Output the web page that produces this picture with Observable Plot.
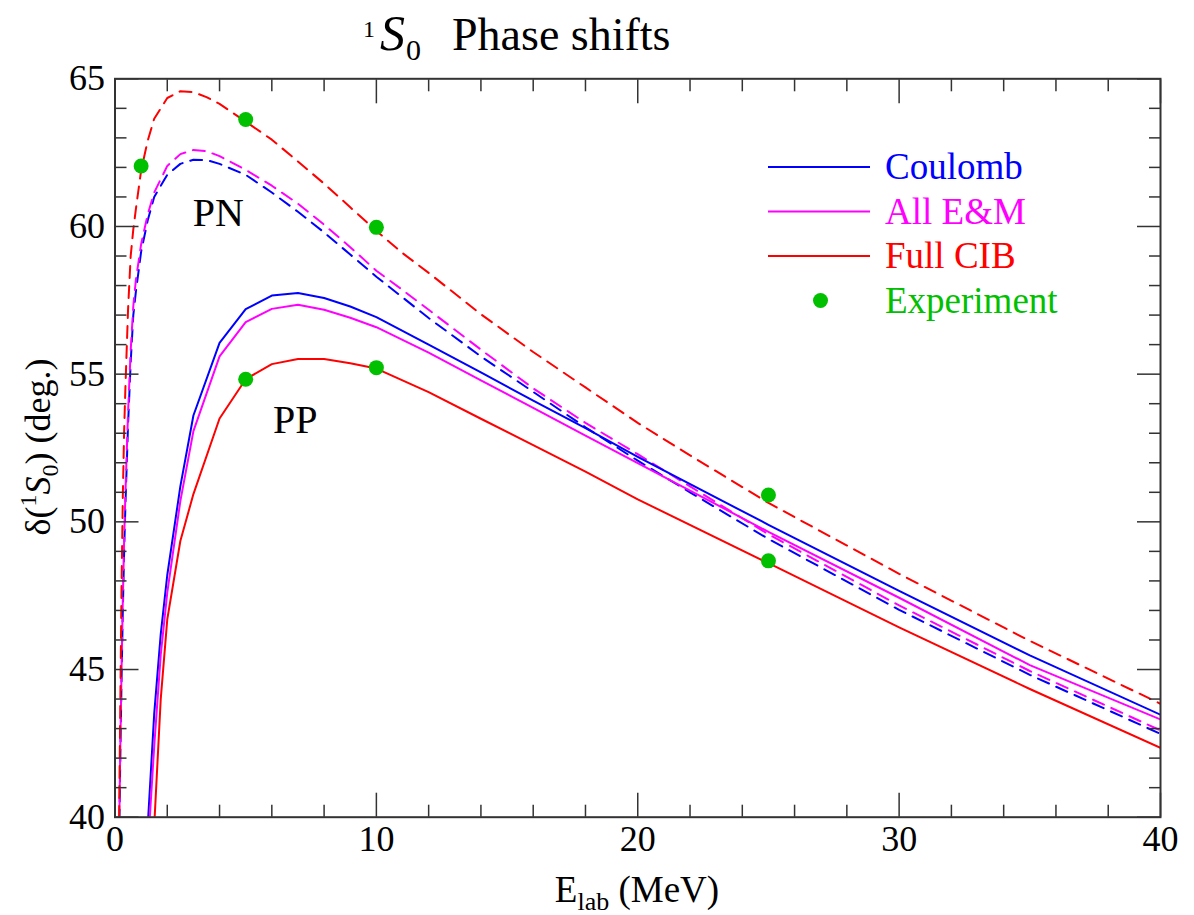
<!DOCTYPE html>
<html>
<head>
<meta charset="utf-8">
<script src="https://cdn.jsdelivr.net/npm/d3@7"></script>
<script src="https://cdn.jsdelivr.net/npm/@observablehq/plot@0.6"></script>
<style>
  html, body { margin: 0; padding: 0; background: #fff; }
  #chart { width: 1194px; height: 915px; }
</style>
</head>
<body>
<div id="chart"></div>
<script>
// ---------- data ----------
const seriesNames  = ["Coulomb", "All E&M", "Full CIB"];
const seriesColors = ["#0000ff", "#ff00ff", "#ff0000"];
const expColor = "#00c000";

// PP (solid) curves
const ppEnergy  = [1.2, 1.5, 1.75, 2, 2.5, 3, 4, 5, 6, 7, 8, 9, 10, 12, 14, 16, 18, 20, 25, 30, 35, 40];
const ppCoulomb = [38.9, 43.5, 46.2, 48.2, 51.2, 53.6, 56.06, 57.2, 57.66, 57.75, 57.58, 57.29, 56.93, 56.0, 55.06, 54.1, 53.17, 52.2, 49.9, 47.66, 45.48, 43.47];
const ppAllEM   = [38.1, 42.4, 45.5, 47.6, 50.7, 53.07, 55.6, 56.76, 57.21, 57.35, 57.18, 56.91, 56.59, 55.73, 54.79, 53.86, 52.92, 51.99, 49.66, 47.43, 45.15, 43.31];
const ppFullCIB = [35.0, 39.7, 44.0, 46.7, 49.35, 50.94, 53.5, 54.83, 55.34, 55.51, 55.51, 55.37, 55.19, 54.39, 53.49, 52.6, 51.7, 50.76, 48.6, 46.43, 44.34, 42.35];

// PN (dashed) curves
const pnEnergy  = [0.15, 0.2, 0.25, 0.3, 0.35, 0.4, 0.5, 0.6, 0.7, 0.8, 1.0, 1.25, 1.5, 2, 2.5, 3, 3.5, 4, 5, 6, 7, 8, 9, 10, 11, 12, 14, 16, 18, 20, 22, 25, 30, 35, 40];
const pnCoulomb = [38.5, 41.8, 44.6, 47.0, 49.0, 50.6, 53.3, 55.4, 57.0, 57.8, 59.15, 60.2, 61.0, 61.75, 62.12, 62.26, 62.25, 62.12, 61.75, 61.15, 60.5, 59.8, 59.05, 58.3, 57.6, 56.9, 55.6, 54.4, 53.2, 52.07, 51.0, 49.42, 47.02, 44.82, 42.82];
const pnAllEM   = [38.9, 42.2, 45.0, 47.4, 49.4, 51.0, 53.7, 55.8, 57.3, 58.2, 59.4, 60.4, 61.15, 62.05, 62.45, 62.59, 62.55, 62.38, 61.92, 61.38, 60.77, 60.06, 59.3, 58.5, 57.85, 57.18, 55.83, 54.52, 53.35, 52.29, 51.2, 49.58, 47.17, 44.95, 42.94];
const pnFullCIB = [39.3, 43.6, 47.8, 50.9, 53.1, 54.6, 57.2, 59.0, 59.9, 60.6, 61.9, 62.9, 63.65, 64.35, 64.58, 64.55, 64.38, 64.15, 63.55, 62.94, 62.2, 61.45, 60.65, 59.85, 59.1, 58.43, 57.03, 55.75, 54.55, 53.35, 52.25, 50.64, 48.24, 45.97, 43.84];

// Experiment points
const expPNEnergy = [1, 5, 10, 25];
const expPNDelta  = [62.05, 63.62, 59.97, 50.91];
const expPPEnergy = [5, 10, 25];
const expPPDelta  = [54.83, 55.22, 48.68];

// Curve-group labels
const groupLabels = ["PN", "PP"];
const groupLabelE = [3.95, 6.9];
const groupLabelD = [60.0, 53.0];

// Ticks
const xMajor = [0, 10, 20, 30, 40];
const xMinor = [2, 4, 6, 8, 12, 14, 16, 18, 22, 24, 26, 28, 32, 34, 36, 38];
const yMajor = [40, 45, 50, 55, 60, 65];
const yMinor = [41, 42, 43, 44, 46, 47, 48, 49, 51, 52, 53, 54, 56, 57, 58, 59, 61, 62, 63, 64];

// ---------- tables ----------
function zip(energy, lists) {
  const rows = [];
  lists.forEach((vals, s) => energy.forEach((e, i) => rows.push({E: e, delta: vals[i], series: seriesNames[s]})));
  return rows;
}
const ppRows = zip(ppEnergy, [ppCoulomb, ppAllEM, ppFullCIB]);
const pnRows = zip(pnEnergy, [pnCoulomb, pnAllEM, pnFullCIB]);
const expRows = expPNEnergy.map((e, i) => ({E: e, delta: expPNDelta[i]}))
  .concat(expPPEnergy.map((e, i) => ({E: e, delta: expPPDelta[i]})));
const labelRows = groupLabels.map((t, i) => ({label: t, E: groupLabelE[i], delta: groupLabelD[i]}));

const FONT = "'Liberation Serif', 'Times New Roman', Times, serif";
const AX = "#333";

const plot = Plot.plot({
  width: 1194,
  height: 915,
  marginLeft: 114.5,
  marginRight: 34,
  marginTop: 78.3,
  marginBottom: 98.3,
  x: {domain: [0, 40]},
  y: {domain: [40, 65]},
  color: {domain: seriesNames, range: seriesColors},
  style: {fontFamily: FONT, fontSize: "36px", color: "black", background: "white"},
  marks: [
    Plot.line(pnRows, {x: "E", y: "delta", z: "series", stroke: "series", strokeWidth: 2, strokeDasharray: "12,8", clip: true}),
    Plot.line(ppRows, {x: "E", y: "delta", z: "series", stroke: "series", strokeWidth: 2, clip: true}),
    Plot.dot(expRows, {x: "E", y: "delta", r: 7.5, fill: expColor, stroke: "none"}),
    Plot.text(labelRows, {x: "E", y: "delta", text: "label", fontSize: 40, lineAnchor: "bottom", fill: "black"}),
    // inward ticks on all four sides
    Plot.axisX(xMajor, {anchor: "bottom", tickSize: -24, fill: "none", stroke: AX, strokeWidth: 1.5, label: null}),
    Plot.axisX(xMinor, {anchor: "bottom", tickSize: -12, fill: "none", stroke: AX, strokeWidth: 1.5, label: null}),
    Plot.axisX(xMajor, {anchor: "top", tickSize: -24, fill: "none", stroke: AX, strokeWidth: 1.5, label: null}),
    Plot.axisX(xMinor, {anchor: "top", tickSize: -12, fill: "none", stroke: AX, strokeWidth: 1.5, label: null}),
    Plot.axisY(yMajor, {anchor: "left", tickSize: -24, fill: "none", stroke: AX, strokeWidth: 1.5, label: null}),
    Plot.axisY(yMinor, {anchor: "left", tickSize: -12, fill: "none", stroke: AX, strokeWidth: 1.5, label: null}),
    Plot.axisY(yMajor, {anchor: "right", tickSize: -24, fill: "none", stroke: AX, strokeWidth: 1.5, label: null}),
    Plot.axisY(yMinor, {anchor: "right", tickSize: -12, fill: "none", stroke: AX, strokeWidth: 1.5, label: null}),
    // tick labels
    Plot.axisX(xMajor, {anchor: "bottom", tickSize: 0, tickPadding: 8, fontSize: 36, fill: "black", label: null}),
    Plot.axisY(yMajor, {anchor: "left", tickSize: 0, tickPadding: 10, fontSize: 36, fill: "black", label: null}),
    Plot.frame({stroke: AX, strokeWidth: 2})
  ]
});

document.getElementById("chart").appendChild(plot);

// ---------- rich text (title, axis titles, legend) ----------
const svg = d3.select(plot);

function rich(t, parts) {
  parts.forEach(p => {
    const ts = t.append("tspan").text(p.t);
    if (p.size) ts.attr("font-size", p.size);
    if (p.dy) ts.attr("dy", p.dy);
    if (p.x != null) ts.attr("x", p.x);
    if (p.y != null) ts.attr("y", p.y);
    if (p.italic) ts.attr("font-style", "italic");
  });
  return t;
}

// Title
const title = svg.append("text").attr("font-family", FONT).attr("fill", "black").attr("text-anchor", "start");
rich(title, [
  {t: "1", size: 24, x: 363, y: 37},
  {t: "S", size: 50, x: 380, y: 50, italic: true},
  {t: "0", size: 30, x: 406, y: 60},
  {t: "Phase shifts", size: 46, x: 452, y: 50}
]);

// X axis title
const xt = svg.append("text").attr("font-family", FONT).attr("font-size", 37)
  .attr("text-anchor", "middle").attr("x", 637).attr("y", 902).attr("fill", "black");
rich(xt, [
  {t: "E"},
  {t: "lab", size: 26, dy: 8},
  {t: " (MeV)", size: 37, dy: -8}
]);

// Y axis title
const yt = svg.append("text").attr("font-family", FONT).attr("font-size", 36)
  .attr("text-anchor", "middle").attr("transform", "translate(50,447) rotate(-90)").attr("fill", "black");
rich(yt, [
  {t: "δ("},
  {t: "1", size: 24, dy: -14},
  {t: "S", size: 36, dy: 14, italic: true},
  {t: "0", size: 24, dy: 8},
  {t: ") (deg.)", size: 36, dy: -8}
]);

// Legend
const legendItems = [
  {name: "Coulomb", color: seriesColors[0], kind: "line"},
  {name: "All E&M", color: seriesColors[1], kind: "line"},
  {name: "Full CIB", color: seriesColors[2], kind: "line"},
  {name: "Experiment", color: expColor, kind: "dot"}
];
const lg = svg.append("g").attr("font-family", FONT).attr("font-size", 37).attr("text-anchor", "start");
legendItems.forEach((d, i) => {
  const yy = 167 + i * 44.5;
  if (d.kind === "line") {
    lg.append("line").attr("x1", 768).attr("x2", 870).attr("y1", yy).attr("y2", yy)
      .attr("stroke", d.color).attr("stroke-width", 2);
  } else {
    lg.append("circle").attr("cx", 820.5).attr("cy", yy).attr("r", 7.5).attr("fill", d.color);
  }
  lg.append("text").attr("x", 885).attr("y", yy + 12).attr("text-anchor", "start").attr("fill", d.color).text(d.name);
});
</script>
</body>
</html>
